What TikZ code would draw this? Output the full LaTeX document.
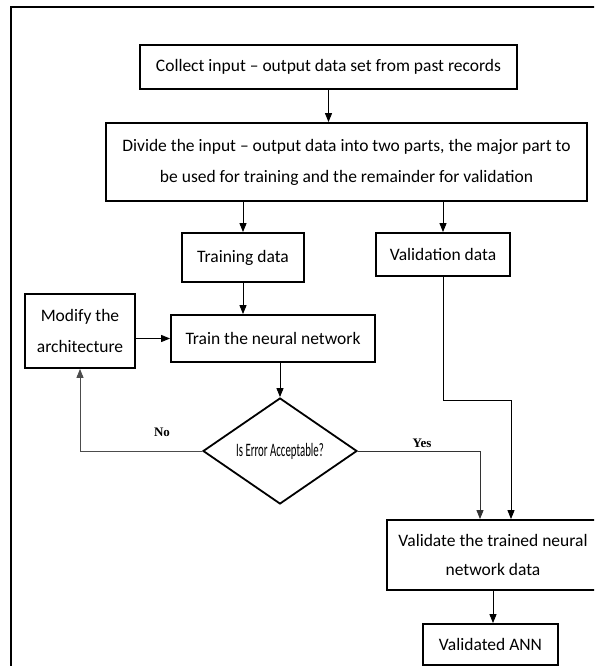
\documentclass[tikz,border=0pt]{standalone}
\usepackage{fontspec}
\setmainfont{Carlito}
\newfontfamily\condfont[FakeStretch=0.57]{Carlito}
\newfontfamily\serifb{Liberation Serif}
\usetikzlibrary{shapes.geometric,arrows.meta}
\begin{document}
\begin{tikzpicture}[x=1pt,y=-1pt,
  box/.style={draw,line width=1.8pt,inner sep=0pt,align=center,font=\fontsize{17.5}{31}\selectfont},
  conn/.style={line width=0.9pt,-{Triangle[length=9pt,width=7pt]}},
  lbl/.style={font=\serifb\bfseries\fontsize{13}{13}\selectfont}]
\useasboundingbox (0,0) rectangle (594,666);
\clip (0,0) rectangle (594,666);
\draw[line width=2.5pt] (11,700) -- (11,7) -- (700,7);

\node[box,minimum width=377pt,minimum height=44pt] (collect) at (328.5,67) {Collect input -- output data set from past records};
\node[box,minimum width=481pt,minimum height=78pt] (divide) at (346.5,162) {Divide the input -- output data into two parts, the major part to\\be used for training and the remainder for validation};
\node[box,minimum width=122pt,minimum height=49pt] (tdata) at (243,257.5) {Training data};
\node[box,minimum width=134pt,minimum height=43pt] (vdata) at (443,254.5) {Validation data};
\node[box,minimum width=110pt,minimum height=74pt] (modify) at (80,331) {Modify the\\architecture};
\node[box,minimum width=204pt,minimum height=47pt] (train) at (273,338.5) {Train the neural network};
\node[draw,diamond,line width=1.8pt,inner sep=0pt,minimum width=154pt,minimum height=106pt,font=\condfont\fontsize{19}{19}\selectfont] (dia) at (280,451) {Is Error Acceptable?};
\node[box,minimum width=212pt,minimum height=70pt,font=\fontsize{17.5}{29}\selectfont] (validate) at (493,555) {Validate the trained neural\\network data};
\node[box,minimum width=135pt,minimum height=41pt] (ann) at (490.5,644.5) {Validated ANN};

\draw[conn] (collect.south) -- (collect.south |- divide.north);
\draw[conn] (divide.south -| tdata.north) -- (tdata.north);
\draw[conn] (divide.south -| vdata.north) -- (vdata.north);
\draw[conn] (tdata.south) -- (tdata.south |- train.north);
\draw[conn] (modify.east |- train.west) -- (train.west);
\draw[conn] (dia.north |- train.south) -- (dia.north);
\draw[conn,black!70] (dia.west) -| (modify.south);
\coordinate (yx) at (480,0);
\draw[conn,black!80] (dia.east) -| (yx |- validate.north);
\coordinate (vj) at (511,400);
\draw[conn] (vdata.south) |- (vj) -- (vj |- validate.north);
\draw[conn] (validate.south) -- (validate.south |- ann.north);

\node[lbl] (no) at (162,432) {No};
\node[lbl] (yes) at (422,443) {Yes};
\end{tikzpicture}
\end{document}
